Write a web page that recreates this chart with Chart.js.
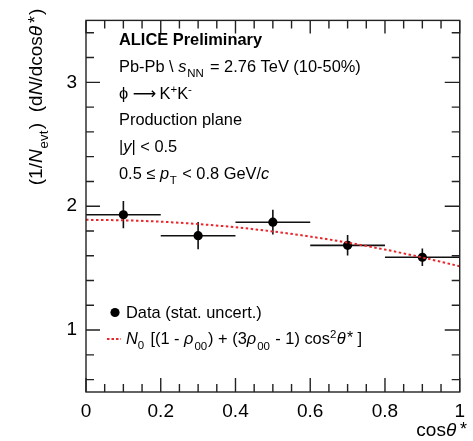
<!DOCTYPE html>
<html>
<head>
<meta charset="utf-8">
<script src="https://cdn.jsdelivr.net/npm/chart.js@4.4.6/dist/chart.umd.js"></script>
<style>
  html, body { margin: 0; background: #fff; }
  #wrap { width: 473px; height: 441px; }
</style>
</head>
<body>
<div id="wrap"><canvas id="rho" width="473" height="441"></canvas></div>
<script>
// phi -> K+K- yield vs cos(theta*), production plane, 10-50%
const binCenters = [0.1, 0.3, 0.5, 0.7, 0.9];
const binHalfWidth = [0.1, 0.1, 0.1, 0.1, 0.1];
const yields = [1.931, 1.762, 1.871, 1.684, 1.588];
const statErr = [0.11, 0.11, 0.10, 0.083, 0.07];

// fitted N0[(1-rho00) + (3rho00-1)cos^2] curve, sampled
const fitX = [0, 0.1, 0.2, 0.3, 0.4, 0.5, 0.6, 0.7, 0.8, 0.9, 1.0];
const fitY = [1.890, 1.886, 1.875, 1.856, 1.830, 1.796, 1.755, 1.706, 1.650, 1.586, 1.515];

const xTicks = [0, 0.2, 0.4, 0.6, 0.8, 1];
const yTicks = [1, 2, 3];

const FONT = '"Liberation Sans", Arial, Helvetica, sans-serif';

// text pieces for latex-like labels (gap/pre in em)
const r = (t, o) => ({ t, ...o });
const it = (t, o) => ({ t, italic: true, ...o });
const bold = (t) => ({ t, bold: true });
const sub = (t, o) => ({ t, scale: 0.7, dy: 0.3, ...o });
const sup = (t, o) => ({ t, scale: 0.7, dy: -0.38, ...o });
const star = (o) => ({ t: '*', scale: 0.95, dy: -0.06, pre: 0.08, ...o });

const drawRich = (ctx, x, y, parts, size, dry) => {
  let cx = x;
  parts.forEach((p) => {
    const s = size * (p.scale || 1);
    const fam = p.family || FONT;
    ctx.font = `${p.italic ? 'italic ' : ''}${p.bold ? 'bold ' : ''}${s}px ${fam}`;
    cx += (p.pre || 0) * size;
    if (!dry) ctx.fillText(p.t, cx, y + (p.dy || 0) * size);
    cx += ctx.measureText(p.t).width + (p.gap || 0) * size;
  });
  return cx - x;
};

const errorBars = {
  id: 'errorBars',
  beforeDatasetsDraw(chart) {
    const { ctx, scales: { x, y } } = chart;
    ctx.save();
    ctx.strokeStyle = '#111';
    ctx.lineWidth = 1.6;
    ctx.beginPath();
    binCenters.forEach((c, i) => {
      const py = y.getPixelForValue(yields[i]);
      const px = x.getPixelForValue(c);
      ctx.moveTo(x.getPixelForValue(c - binHalfWidth[i]), py);
      ctx.lineTo(x.getPixelForValue(c + binHalfWidth[i]), py);
      ctx.moveTo(px, y.getPixelForValue(yields[i] - statErr[i]));
      ctx.lineTo(px, y.getPixelForValue(yields[i] + statErr[i]));
    });
    ctx.stroke();
    ctx.restore();
  }
};

const frame = {
  id: 'frame',
  afterDraw(chart) {
    const { ctx, chartArea: a, scales: { x, y } } = chart;
    ctx.save();
    ctx.strokeStyle = '#222';
    ctx.lineWidth = 1.4;
    ctx.strokeRect(a.left, a.top, a.right - a.left, a.bottom - a.top);
    ctx.beginPath();
    for (let k = 0; k <= 20; k++) {
      const px = x.getPixelForValue(k * 0.05);
      const major = k % 4 === 0;
      ctx.moveTo(px, a.bottom);
      ctx.lineTo(px, a.bottom - (major ? 14 : 8));
      ctx.moveTo(px, a.top);
      ctx.lineTo(px, a.top + (major ? 13 : 8));
    }
    for (let k = 3; k <= 17; k++) {
      const py = y.getPixelForValue(k * 0.2);
      const major = k % 5 === 0;
      ctx.moveTo(a.left, py);
      ctx.lineTo(a.left + (major ? 14 : 8), py);
      ctx.moveTo(a.right, py);
      ctx.lineTo(a.right - (major ? 15 : 8), py);
    }
    ctx.stroke();
    ctx.restore();
  }
};

const labels = {
  id: 'labels',
  afterDraw(chart) {
    const { ctx } = chart;
    ctx.save();
    ctx.fillStyle = '#000';
    ctx.textBaseline = 'alphabetic';
    ctx.textAlign = 'left';

    // header block
    const lx = 119;
    const size = 16.4;
    drawRich(ctx, lx, 45, [bold('ALICE Preliminary')], size);
    drawRich(ctx, lx, 72, [r('Pb-Pb \\ '), it('s', { gap: 0.05 }), sub('NN', { gap: 0.1 }), r(' = 2.76 TeV (10-50%)')], size);
    drawRich(ctx, lx, 99, [
      r('ϕ '), r('⟶', { family: '"DejaVu Sans", sans-serif', scale: 1.0, dy: 0.02, gap: 0.2 }),
      r('K'), sup('+'), r('K'), sup('-')
    ], size);
    drawRich(ctx, lx, 125, [r('Production plane')], size);
    drawRich(ctx, lx, 152, [r('|'), it('y'), r('| < 0.5')], size);
    drawRich(ctx, lx, 179, [r('0.5 ≤ '), it('p', { gap: 0.05 }), sub('T', { gap: 0.05 }), r(' < 0.8 GeV/'), it('c')], size);

    // legend
    ctx.beginPath();
    ctx.arc(115, 312.5, 4.6, 0, Math.PI * 2);
    ctx.fill();
    drawRich(ctx, 126, 318, [r('Data (stat. uncert.)')], size);
    ctx.save();
    ctx.strokeStyle = '#e8262b';
    ctx.lineWidth = 1.8;
    ctx.setLineDash([2.5, 2]);
    ctx.beginPath();
    ctx.moveTo(107, 339);
    ctx.lineTo(121, 339);
    ctx.stroke();
    ctx.restore();
    drawRich(ctx, 126, 344, [
      it('N'), sub('0', { gap: 0.1 }), r(' [(1 - '), it('ρ'), sub('00', { pre: 0.06, dy: 0.36, gap: 0.05 }),
      r(') + (3'), it('ρ'), sub('00', { pre: 0.06, dy: 0.36, gap: 0.05 }),
      r(' - 1) cos'), sup('2', { gap: 0.03 }), it('θ'), star(), r(' ]')
    ], size);

    // axis titles
    const xt = [r('cos'), it('θ'), star({ pre: 0.2 })];
    const wx = drawRich(ctx, 0, 0, xt, 19, true);
    drawRich(ctx, 467 - wx, 436, xt, 19);

    const yt = [
      r('(1/'), it('N', { gap: 0.05 }), sub('evt', { gap: 0.08 }), r(')  (d'), it('N'), r('/dcos'),
      it('θ'), star({ pre: 0.15, gap: 0.05 }), r(')')
    ];
    const wy = drawRich(ctx, 0, 0, yt, 19, true);
    ctx.translate(42, 97 + wy / 2);
    ctx.rotate(-Math.PI / 2);
    drawRich(ctx, 0, 0, yt, 19);
    ctx.restore();
  }
};

new Chart(document.getElementById('rho'), {
  data: {
    datasets: [
      {
        type: 'line',
        data: fitX.map((v, i) => ({ x: v, y: fitY[i] })),
        borderColor: '#e8262b',
        borderWidth: 2,
        borderDash: [2.5, 2.5],
        pointRadius: 0,
        cubicInterpolationMode: 'monotone',
        fill: false
      },
      {
        type: 'scatter',
        data: binCenters.map((v, i) => ({ x: v, y: yields[i] })),
        backgroundColor: '#000',
        borderColor: '#000',
        borderWidth: 0,
        pointRadius: 4.6
      }
    ]
  },
  options: {
    responsive: false,
    animation: false,
    layout: { padding: { top: 7, right: 7, left: 0, bottom: 0 } },
    scales: {
      x: {
        type: 'linear',
        min: 0,
        max: 1,
        afterBuildTicks: (s) => { s.ticks = xTicks.map((value) => ({ value })); },
        afterFit: (s) => { s.height = 49; },
        grid: { display: false, drawTicks: false },
        border: { display: false },
        ticks: {
          color: '#000',
          font: { family: FONT, size: 19 },
          padding: 8,
          maxRotation: 0,
          autoSkip: false,
          callback: (v) => String(+v.toFixed(1))
        }
      },
      y: {
        type: 'linear',
        min: 0.5,
        max: 3.5,
        afterBuildTicks: (s) => { s.ticks = yTicks.map((value) => ({ value })); },
        afterFit: (s) => { s.width = 86; },
        grid: { display: false, drawTicks: false },
        border: { display: false },
        ticks: {
          color: '#000',
          font: { family: FONT, size: 19 },
          padding: 9,
          callback: (v) => String(v)
        }
      }
    },
    plugins: {
      legend: { display: false },
      tooltip: { enabled: false }
    }
  },
  plugins: [errorBars, frame, labels]
});
</script>
</body>
</html>
